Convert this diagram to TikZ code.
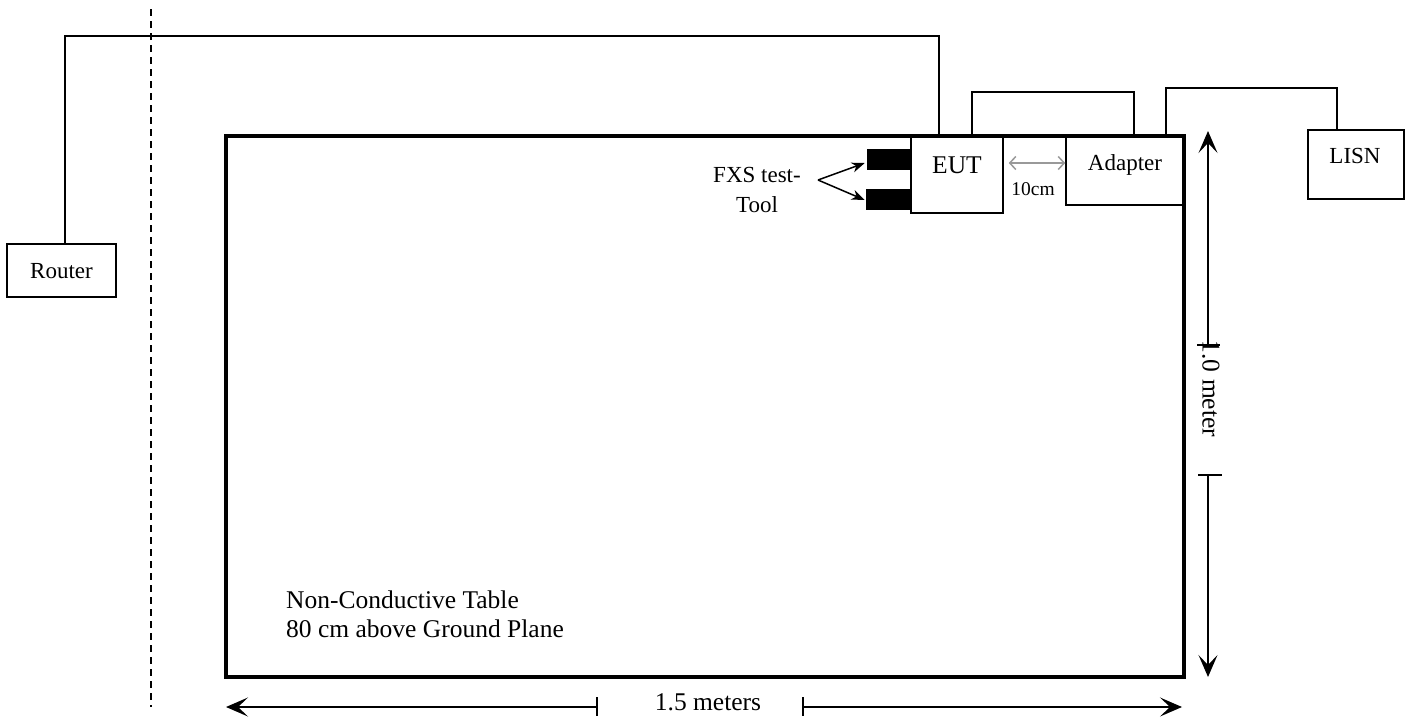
\documentclass[tikz,border=0pt]{standalone}
\usepackage{fontspec}
\setmainfont{Liberation Serif}
\usetikzlibrary{arrows.meta}
\begin{document}
\begin{tikzpicture}[x=1pt,y=-1pt,
  wire/.style={line width=1.5pt},
  box/.style={draw,line width=1.5pt,inner sep=0pt},
  blk/.style={draw,fill=black,line width=0.5pt,inner sep=0pt},
  tablebox/.style={line width=4pt},
  dim/.style={line width=1.5pt,-{Stealth[length=22pt,width=19pt,inset=10pt]}},
  tick/.style={line width=1.5pt},
  fx/.style={line width=1.5pt,-{Stealth[length=13pt,width=10pt,inset=4pt]}},
  gap/.style={draw=black!40,line width=1.5pt,{Straight Barb[length=6pt,width=13pt]}-{Straight Barb[length=6pt,width=13pt]}},
  lbl/.style={inner sep=0pt,font=\fontsize{23}{27}\selectfont},
  big/.style={inner sep=0pt,font=\fontsize{25.5}{29}\selectfont},
  small/.style={inner sep=0pt,font=\fontsize{19.5}{23}\selectfont},
]
\useasboundingbox (0,0) rectangle (1415,720);

% table
\draw[tablebox] (226,136) rectangle (1184,677);
\node[big,anchor=base west] (tab1) at (286,608) {Non-Conductive Table};
\node[big,anchor=base west] (tab2) at (286,637) {80 cm above Ground Plane};

% dashed boundary
\draw[line width=1.5pt,dash pattern=on 7pt off 5pt] (151,9) -- (151,707);

% boxes
\node[box,minimum width=109pt,minimum height=53pt] (router) at (61.5,270.5) {};
\node[lbl,anchor=base] (routert) at (61.5,278) {Router};

\node[box,fill=white,minimum width=92pt,minimum height=76pt] (eut) at (957,175) {};
\node[big,anchor=base] (eutt) at (957,173) {EUT};

\node[box,fill=white,minimum width=117pt,minimum height=68pt] (adapter) at (1124.5,171) {};
\node[lbl,anchor=base] (adaptert) at (1125,170) {Adapter};

\node[box,minimum width=96pt,minimum height=69pt] (lisn) at (1356,164.5) {};
\node[lbl,anchor=base] (lisnt) at (1355,163) {LISN};

% FXS test tool blocks
\node[blk,minimum width=44pt,minimum height=20pt] (blk1) at (889,159) {};
\node[blk,minimum width=45pt,minimum height=20pt] (blk2) at (888.5,199) {};
\node[lbl,anchor=base] (fxs1) at (757,182) {FXS test-};
\node[lbl,anchor=base] (fxs2) at (757,212) {Tool};
\coordinate (fxo) at (818,180);
\draw[fx] (fxo) -- ([xshift=-2pt,yshift=-4pt]blk1.west);
\draw[fx] (fxo) -- ([xshift=-1pt,yshift=-1pt]blk2.west);

% 10 cm gap
\draw[gap] ([xshift=5pt,yshift=12pt]eut.east) -- ([yshift=8pt]adapter.west);
\node[small,anchor=base] (gapt) at (1033,195) {10cm};

% wires
\coordinate (w1) at (65,36);
\draw[wire] ([xshift=3.5pt]router.north) -- (w1) -| ([xshift=-18pt]eut.north);
\coordinate (w2) at (1053,92);
\draw[wire] ([xshift=15pt]eut.north) |- (w2) -| ([xshift=9.5pt]adapter.north);
\coordinate (w3) at (1250,88);
\draw[wire] ([xshift=41.5pt]adapter.north) |- (w3) -| ([xshift=-19pt]lisn.north);

% vertical dimension
\coordinate (vtop) at (1208,131);
\coordinate (vt1) at (1208,345);
\coordinate (vt2) at (1208,475);
\coordinate (vbot) at (1208,677);
\draw[dim] (vt1) -- (vtop);
\draw[dim] (vt2) -- (vbot);
\draw[tick] ([xshift=-11pt]vt1) -- ([xshift=12pt]vt1);
\draw[tick] ([xshift=-10pt]vt2) -- ([xshift=14pt]vt2);
\node[big,rotate=-90] (vtext) at (1211,389) {1.0 meter};

% horizontal dimension
\coordinate (hleft) at (226,707);
\coordinate (ht1) at (597,707);
\coordinate (ht2) at (803,707);
\coordinate (hright) at (1182,707);
\draw[dim] (ht1) -- (hleft);
\draw[dim] (ht2) -- (hright);
\draw[tick] ([yshift=10pt]ht1) -- ([yshift=-9pt]ht1);
\draw[tick] ([yshift=10pt]ht2) -- ([yshift=-9pt]ht2);
\node[big,anchor=base] (htext) at (708,710) {1.5 meters};
\end{tikzpicture}
\end{document}
